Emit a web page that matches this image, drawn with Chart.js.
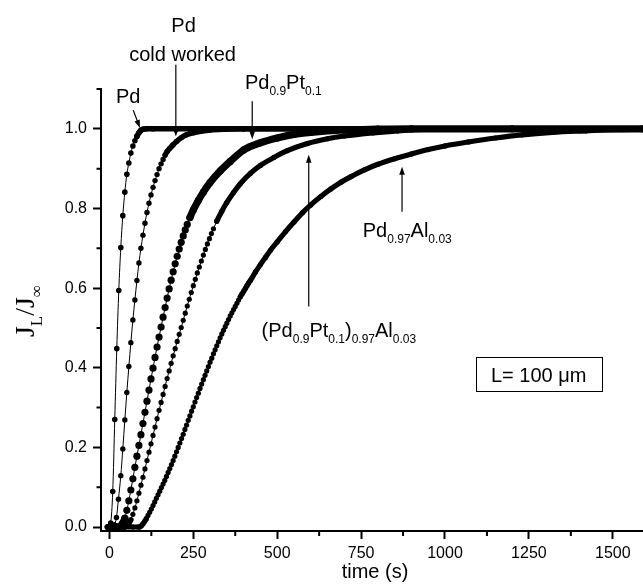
<!DOCTYPE html>
<html>
<head>
<meta charset="utf-8">
<script src="https://cdn.jsdelivr.net/npm/chart.js@4.4.1/dist/chart.umd.min.js"></script>
<style>
  html, body { margin: 0; padding: 0; background: #fff; }
  canvas { display: block; }
</style>
</head>
<body>
<canvas id="permeation" width="643" height="587"></canvas>
<script>
// 축 눈금
const timeTicks = [0, 250, 500, 750, 1000, 1250, 1500];
const timeMinorTicks = [125, 375, 625, 875, 1125, 1375];
const fluxTicks = [0, 0.2, 0.4, 0.6, 0.8, 1.0];
const fluxMinorTicks = [0.1, 0.3, 0.5, 0.7, 0.9, 1.1];

// Pd
const pdTime = [-6, 0, 4, 10, 16, 22, 28, 34, 40, 46,
  52, 58, 64, 70, 76, 82, 88, 94, 100, 110,
  130, 200, 400, 800, 1200, 1590];
const pdFlux = [0, 0, 0.01, 0.089, 0.27, 0.448, 0.594, 0.702, 0.782, 0.841,
  0.886, 0.914, 0.939, 0.957, 0.97, 0.981, 0.99, 0.996, 0.999, 1,
  1, 1, 1, 1, 1, 1];

// Pd cold worked
const coldTime = [-3, 3, 9, 15, 21, 27, 34, 40, 46, 52,
  58, 64, 70, 76, 82, 88, 94, 100, 106, 112,
  118, 124, 130, 136, 142, 148, 154, 160, 166, 172,
  180, 190, 200, 215, 230, 250, 275, 300, 340, 400,
  600, 1000, 1590];
const coldFlux = [0, 0, 0, 0.005, 0.024, 0.07, 0.129, 0.196, 0.269, 0.338,
  0.403, 0.463, 0.52, 0.57, 0.619, 0.663, 0.70, 0.733, 0.763, 0.79,
  0.813, 0.834, 0.853, 0.87, 0.885, 0.90, 0.912, 0.923, 0.934, 0.943,
  0.951, 0.96, 0.968, 0.978, 0.985, 0.99, 0.994, 0.997, 0.999, 1,
  1, 1, 1];

// Pd0.9Pt0.1
const ptTime = [10, 16, 22, 28, 34, 40, 46, 52, 58, 64,
  70, 76, 82, 88, 94, 100, 106, 112, 118, 124,
  130, 136, 142, 148, 154, 160, 166, 172, 178, 184,
  190, 196, 202, 208, 214, 220, 226, 232, 240, 250,
  265, 280, 300, 330, 360, 400, 450, 500, 550, 600,
  700, 800, 900, 1200, 1590];
const ptFlux = [0, 0, 0, 0, 0.003, 0.01, 0.022, 0.042, 0.066, 0.093,
  0.121, 0.15, 0.178, 0.205, 0.232, 0.26, 0.288, 0.316, 0.344, 0.372,
  0.399, 0.426, 0.452, 0.477, 0.502, 0.527, 0.551, 0.575, 0.598, 0.62,
  0.641, 0.661, 0.68, 0.698, 0.715, 0.731, 0.746, 0.76, 0.777, 0.796,
  0.82, 0.841, 0.865, 0.894, 0.918, 0.947, 0.965, 0.977, 0.986, 0.991,
  0.997, 0.999, 1, 1, 1];

// (Pd0.9Pt0.1)0.97Al0.03
const ptAlTime = [20, 28, 34, 40, 46, 52, 58, 64, 70, 76,
  82, 88, 94, 100, 106, 112, 118, 124, 130, 136,
  142, 148, 154, 160, 166, 172, 178, 184, 190, 196,
  202, 208, 214, 220, 226, 232, 238, 244, 250, 256,
  262, 268, 274, 280, 286, 292, 298, 304, 310, 320,
  335, 350, 370, 390, 420, 450, 490, 530, 590, 650,
  700, 786, 860, 960, 1100, 1300, 1590];
const ptAlFlux = [0, 0, 0, 0, 0, 0.002, 0.008, 0.018, 0.032, 0.048,
  0.066, 0.085, 0.105, 0.125, 0.146, 0.167, 0.188, 0.209, 0.23, 0.251,
  0.272, 0.293, 0.313, 0.333, 0.353, 0.373, 0.392, 0.411, 0.43, 0.448,
  0.466, 0.484, 0.501, 0.519, 0.537, 0.555, 0.572, 0.589, 0.606, 0.622,
  0.638, 0.653, 0.668, 0.683, 0.697, 0.711, 0.724, 0.737, 0.749, 0.768,
  0.793, 0.815, 0.84, 0.862, 0.888, 0.908, 0.928, 0.945, 0.963, 0.975,
  0.982, 0.99, 0.995, 0.999, 1, 1, 1];

// Pd0.97Al0.03
const alTime = [-5, 20, 45, 70, 85, 90, 95, 100, 105, 110,
  115, 120, 125, 130, 135, 140, 145, 150, 155, 160,
  165, 170, 175, 180, 185, 190, 195, 200, 205, 210,
  215, 220, 225, 230, 235, 240, 245, 250, 255, 260,
  265, 270, 275, 280, 285, 290, 295, 300, 305, 310,
  315, 320, 325, 330, 335, 340, 345, 350, 355, 360,
  365, 370, 375, 380, 385, 390, 395, 400, 405, 410,
  415, 420, 435, 450, 465, 480, 500, 525, 550, 575,
  600, 630, 660, 690, 720, 760, 800, 850, 900, 950,
  1000, 1070, 1150, 1230, 1320, 1420, 1500, 1590];
const alFlux = [0, 0, 0, 0, 0, 0, 0.003, 0.008, 0.014, 0.021,
  0.029, 0.037, 0.045, 0.054, 0.063, 0.072, 0.081, 0.09, 0.099, 0.108,
  0.117, 0.127, 0.137, 0.147, 0.157, 0.167, 0.178, 0.189, 0.2, 0.211,
  0.222, 0.233, 0.245, 0.256, 0.268, 0.279, 0.291, 0.302, 0.314, 0.325,
  0.336, 0.348, 0.359, 0.37, 0.381, 0.392, 0.403, 0.414, 0.424, 0.435,
  0.445, 0.455, 0.465, 0.475, 0.485, 0.494, 0.503, 0.512, 0.521, 0.53,
  0.538, 0.546, 0.554, 0.562, 0.57, 0.578, 0.585, 0.592, 0.599, 0.606,
  0.613, 0.619, 0.64, 0.659, 0.677, 0.695, 0.716, 0.742, 0.766, 0.789,
  0.809, 0.83, 0.849, 0.866, 0.88, 0.897, 0.911, 0.925, 0.937, 0.948,
  0.957, 0.967, 0.977, 0.985, 0.991, 0.995, 0.998, 0.999];

const SANS = '"Liberation Sans", Arial, Helvetica, sans-serif';
const SERIF = '"Liberation Serif", "Times New Roman", serif';

// 점이 겹쳐 보이는 완만한 구간은 굵은 선으로 이어 그림
function mergedSegment(thickness, maxSlope) {
  return {
    borderWidth: ctx => {
      const dx = Math.abs(ctx.p1.x - ctx.p0.x);
      const dy = Math.abs(ctx.p1.y - ctx.p0.y);
      return dy < maxSlope * dx ? thickness : 1;
    }
  };
}

function makeSeries(label, times, flux, radius, maxSlope) {
  return {
    label: label,
    data: times.map((t, i) => ({ x: t, y: flux[i] })),
    showLine: true,
    cubicInterpolationMode: 'monotone',
    borderColor: '#000',
    backgroundColor: '#000',
    borderWidth: 1,
    borderCapStyle: 'round',
    borderJoinStyle: 'round',
    pointRadius: radius,
    pointHoverRadius: radius,
    pointBorderWidth: 0,
    segment: mergedSegment(radius * 2, maxSlope)
  };
}

// 주석 (데이터 좌표)
const notes = [
  { parts: [['Pd', 0]], at: [56, 1.065], align: 'center', arrow: [[71, 1.047], [91, 1.002]] },
  { parts: [['Pd', 0]], at: [221, 1.242], align: 'center' },
  { parts: [['cold worked', 0]], at: [218, 1.17], align: 'center', arrow: [[198, 1.161], [198, 0.981]] },
  { parts: [['Pd', 0], ['0.9', 1], ['Pt', 0], ['0.1', 1]], at: [404, 1.1], align: 'left', arrow: [[425.6, 1.069], [425.6, 0.974]] },
  { parts: [['Pd', 0], ['0.97', 1], ['Al', 0], ['0.03', 1]], at: [755, 0.728], align: 'left', arrow: [[872, 0.792], [872, 0.905]] },
  { parts: [['(Pd', 0], ['0.9', 1], ['Pt', 0], ['0.1', 1], [')', 0], ['0.97', 1], ['Al', 0], ['0.03', 1]], at: [453.6, 0.4766], align: 'left', arrow: [[594, 0.5535], [594, 0.9347]] }
];

function drawRich(ctx, parts, x, y, size, family, align) {
  const sub = Math.round(size * 0.6);
  const widths = parts.map(([s, isSub]) => {
    ctx.font = (isSub ? sub : size) + 'px ' + family;
    return ctx.measureText(s).width;
  });
  const total = widths.reduce((a, b) => a + b, 0);
  let cx = align === 'center' ? x - total / 2 : x;
  ctx.textAlign = 'left';
  ctx.textBaseline = 'alphabetic';
  parts.forEach(([s, isSub], i) => {
    ctx.font = (isSub ? sub : size) + 'px ' + family;
    ctx.fillText(s, cx, isSub ? y + size * 0.28 : y);
    cx += widths[i];
  });
}

function drawArrow(ctx, x0, y0, x1, y1) {
  const ang = Math.atan2(y1 - y0, x1 - x0);
  const len = 8, half = 2.8;
  ctx.beginPath();
  ctx.moveTo(x0, y0);
  ctx.lineTo(x1 - Math.cos(ang) * len * 0.8, y1 - Math.sin(ang) * len * 0.8);
  ctx.lineWidth = 1.2;
  ctx.stroke();
  ctx.beginPath();
  ctx.moveTo(x1, y1);
  ctx.lineTo(x1 - Math.cos(ang) * len - Math.sin(ang) * half, y1 - Math.sin(ang) * len + Math.cos(ang) * half);
  ctx.lineTo(x1 - Math.cos(ang) * len + Math.sin(ang) * half, y1 - Math.sin(ang) * len - Math.cos(ang) * half);
  ctx.closePath();
  ctx.fill();
}

const decorPlugin = {
  id: 'decor',
  afterDraw(chart) {
    const ctx = chart.ctx;
    const xs = chart.scales.x;
    const ys = chart.scales.y;
    const area = chart.chartArea;
    const px = t => xs.getPixelForValue(t);
    const py = v => ys.getPixelForValue(v);

    ctx.save();
    ctx.strokeStyle = '#000';
    ctx.fillStyle = '#000';

    // 보조 눈금
    ctx.lineWidth = 2;
    ctx.beginPath();
    timeMinorTicks.forEach(t => {
      ctx.moveTo(px(t), area.bottom);
      ctx.lineTo(px(t), area.bottom + 5);
    });
    fluxMinorTicks.forEach(v => {
      ctx.moveTo(area.left, py(v));
      ctx.lineTo(area.left - 4.5, py(v));
    });
    ctx.stroke();

    // 주석과 화살표
    notes.forEach(n => {
      drawRich(ctx, n.parts, px(n.at[0]), py(n.at[1]), 20, SANS, n.align);
      if (n.arrow) {
        drawArrow(ctx, px(n.arrow[0][0]), py(n.arrow[0][1]), px(n.arrow[1][0]), py(n.arrow[1][1]));
      }
    });

    // L = 100 um 상자
    const bx0 = px(1092), bx1 = px(1467), by0 = py(0.4266), by1 = py(0.34);
    ctx.lineWidth = 1;
    ctx.strokeRect(Math.round(bx0) + 0.5, Math.round(by0) + 0.5, Math.round(bx1 - bx0), Math.round(by1 - by0));
    drawRich(ctx, [['L= 100 \u03bcm', 0]], px(1279), py(0.365), 20, SANS, 'center');

    // 축 제목
    drawRich(ctx, [['time (s)', 0]], (area.left + area.right) / 2 + 3, area.bottom + 47, 20, SANS, 'center');
    ctx.translate(34, (area.top + area.bottom) / 2 + 1);
    ctx.rotate(-Math.PI / 2);
    drawRich(ctx, [['J', 0], ['L', 1], ['/J', 0], ['\u221e', 1]], 0, 0, 28, SERIF, 'center');
    ctx.restore();
  }
};

const axisGrid = {
  drawOnChartArea: false,
  drawTicks: true,
  tickLength: 8,
  tickWidth: 2,
  tickColor: '#000'
};

new Chart(document.getElementById('permeation'), {
  type: 'scatter',
  data: {
    datasets: [
      makeSeries('Pd', pdTime, pdFlux, 2.8, 2),
      makeSeries('Pd cold worked', coldTime, coldFlux, 2.7, 2),
      makeSeries('Pd0.9Pt0.1', ptTime, ptFlux, 3.6, 2.5),
      makeSeries('(Pd0.9Pt0.1)0.97Al0.03', ptAlTime, ptAlFlux, 2.6, 2),
      makeSeries('Pd0.97Al0.03', alTime, alFlux, 2.6, 1.8)
    ]
  },
  options: {
    responsive: false,
    animation: false,
    events: [],
    layout: { autoPadding: false, padding: { top: 89, right: 0, bottom: 0, left: 0 } },
    plugins: {
      legend: { display: false },
      tooltip: { enabled: false }
    },
    scales: {
      x: {
        type: 'linear',
        min: -25,
        max: 1590,
        afterBuildTicks: s => { s.ticks = timeTicks.map(v => ({ value: v })); },
        afterFit: s => { s.height = 56; },
        grid: axisGrid,
        border: { display: true, color: '#000', width: 2 },
        ticks: {
          color: '#000',
          font: { family: SANS, size: 16 },
          padding: 5,
          maxRotation: 0,
          autoSkip: false,
          callback: v => String(v)
        }
      },
      y: {
        type: 'linear',
        min: -0.01,
        max: 1.1,
        afterBuildTicks: s => { s.ticks = fluxTicks.map(v => ({ value: v })); },
        afterFit: s => { s.width = 101; },
        grid: axisGrid,
        border: { display: true, color: '#000', width: 2 },
        ticks: {
          color: '#000',
          font: { family: SANS, size: 16 },
          padding: 6,
          autoSkip: false,
          callback: v => v.toFixed(1)
        }
      }
    }
  },
  plugins: [decorPlugin]
});
</script>
</body>
</html>
